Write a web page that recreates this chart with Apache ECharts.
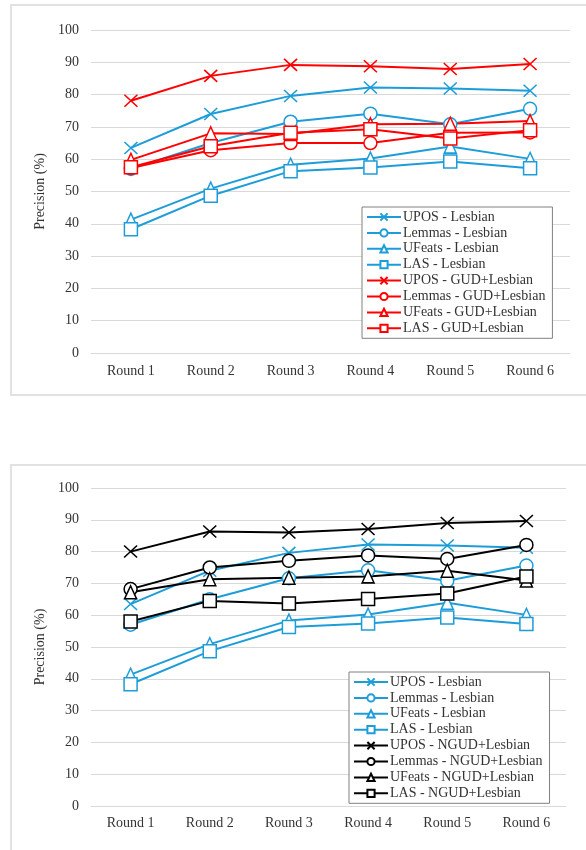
<!DOCTYPE html>
<html>
<head>
<meta charset="utf-8">
<script src="https://cdn.jsdelivr.net/npm/echarts@6/dist/echarts.min.js"></script>
<style>
  html, body { margin: 0; padding: 0; background: #fff; }
  #chart { width: 586px; height: 850px; }
</style>
</head>
<body>
<div id="chart"></div>
<script>
var rounds = ["Round 1", "Round 2", "Round 3", "Round 4", "Round 5", "Round 6"];
var yTicks = [0, 10, 20, 30, 40, 50, 60, 70, 80, 90, 100];

// Lesbian only (both charts)
var uposLes = [63.5, 74.0, 79.6, 82.2, 81.9, 81.2];
var lemmasLes = [57.0, 65.0, 71.6, 74.1, 70.8, 75.6];
var ufeatsLes = [41.3, 50.9, 58.3, 60.2, 63.9, 60.1];
var lasLes = [38.3, 48.7, 56.3, 57.4, 59.3, 57.2];

// GUD+Lesbian (top chart)
var uposGud = [78.1, 85.8, 89.2, 88.8, 87.9, 89.5];
var lemmasGud = [57.3, 62.8, 65.0, 65.0, 68.2, 68.3];
var ufeatsGud = [59.8, 68.0, 67.8, 70.8, 71.0, 71.8];
var lasGud = [57.5, 64.0, 68.2, 69.3, 66.4, 69.0];

// NGUD+Lesbian (bottom chart)
var uposNgud = [80.0, 86.3, 86.0, 87.1, 89.0, 89.6];
var lemmasNgud = [68.2, 75.0, 77.1, 78.8, 77.7, 82.1];
var ufeatsNgud = [67.2, 71.3, 71.8, 72.2, 74.0, 70.9];
var lasNgud = [58.0, 64.5, 63.7, 65.1, 66.8, 72.2];

var BLUE = "#1c9dd9";
var RED = "#ff0000";
var BLACK = "#000000";
var FONT = "Liberation Serif";
var TXT = "#333333";

var CROSS = "path://M0,0L10,10M0,10L10,0";

function mk(name, data, color, kind, idx) {
  var sym, size;
  if (kind === "x") { sym = CROSS; size = [13, 12]; }
  else if (kind === "o") { sym = "circle"; size = 13; }
  else if (kind === "t") { sym = "triangle"; size = [12, 13]; }
  else { sym = "rect"; size = 13; }
  return {
    name: name,
    type: "line",
    xAxisIndex: idx,
    yAxisIndex: idx,
    data: data,
    symbol: sym,
    symbolSize: size,
    showAllSymbol: true,
    lineStyle: { color: color, width: 2 },
    itemStyle: { color: "#fff", borderColor: color, borderWidth: 1.5 },
    emphasis: { disabled: true },
    animation: false,
  };
}

function xAx(idx, margin) {
  return {
    type: "category",
    gridIndex: idx,
    data: rounds,
    boundaryGap: true,
    axisLine: { show: true, lineStyle: { color: "#d9d9d9" } },
    axisTick: { show: false },
    axisLabel: { color: TXT, fontFamily: FONT, fontSize: 14, margin: margin },
  };
}

function yAx(idx) {
  return {
    type: "value",
    gridIndex: idx,
    min: yTicks[0],
    max: yTicks[yTicks.length - 1],
    interval: 10,
    name: "Precision (%)",
    nameLocation: "middle",
    nameGap: 36,
    nameTextStyle: { color: TXT, fontFamily: FONT, fontSize: 14 },
    axisLine: { show: false },
    axisTick: { show: false },
    axisLabel: { color: TXT, fontFamily: FONT, fontSize: 14, margin: 12 },
    splitLine: { lineStyle: { color: "#d9d9d9", width: 1 } },
  };
}

function lg(left, top, names) {
  return {
    left: left,
    top: top,
    orient: "vertical",
    data: names,
    itemWidth: 34,
    itemHeight: 9,
    itemGap: 1.9,
    padding: [3, 7, 3, 4],
    borderColor: "#808080",
    borderWidth: 1,
    backgroundColor: "#fff",
    selectedMode: false,
    lineStyle: { width: 2 },
    textStyle: { color: TXT, fontFamily: FONT, fontSize: 14, padding: [0, 0, 0, -3] },
  };
}

var topNames = ["UPOS - Lesbian", "Lemmas - Lesbian", "UFeats - Lesbian", "LAS - Lesbian",
  "UPOS - GUD+Lesbian", "Lemmas - GUD+Lesbian", "UFeats - GUD+Lesbian", "LAS - GUD+Lesbian"];
var botNames = ["UPOS - Lesbian", "Lemmas - Lesbian", "UFeats - Lesbian", "LAS - Lesbian",
  "UPOS - NGUD+Lesbian", "Lemmas - NGUD+Lesbian", "UFeats - NGUD+Lesbian", "LAS - NGUD+Lesbian"];

var chartDom = document.getElementById("chart");
var myChart = echarts.init(chartDom, null, { renderer: "canvas" });
var option;

option = {
  animation: false,
  backgroundColor: "#fff",
  graphic: [
    { type: "rect", z: -10, shape: { x: 11, y: 5, width: 600, height: 390 },
      style: { fill: "none", stroke: "#d9d9d9", lineWidth: 1.5 } },
    { type: "rect", z: -10, shape: { x: 11, y: 465, width: 600, height: 420 },
      style: { fill: "none", stroke: "#d9d9d9", lineWidth: 1.5 } },
  ],
  grid: [
    { left: 91, right: 16, top: 30, height: 323 },
    { left: 91, right: 20, top: 488, height: 318 },
  ],
  xAxis: [xAx(0, 11), xAx(1, 10)],
  yAxis: [yAx(0), yAx(1)],
  legend: [lg(362, 207, topNames), lg(349, 672, botNames)],
  series: [
    mk("UPOS - Lesbian", uposLes, BLUE, "x", 0),
    mk("Lemmas - Lesbian", lemmasLes, BLUE, "o", 0),
    mk("UFeats - Lesbian", ufeatsLes, BLUE, "t", 0),
    mk("LAS - Lesbian", lasLes, BLUE, "s", 0),
    mk("UPOS - GUD+Lesbian", uposGud, RED, "x", 0),
    mk("Lemmas - GUD+Lesbian", lemmasGud, RED, "o", 0),
    mk("UFeats - GUD+Lesbian", ufeatsGud, RED, "t", 0),
    mk("LAS - GUD+Lesbian", lasGud, RED, "s", 0),

    mk("UPOS - Lesbian", uposLes, BLUE, "x", 1),
    mk("Lemmas - Lesbian", lemmasLes, BLUE, "o", 1),
    mk("UFeats - Lesbian", ufeatsLes, BLUE, "t", 1),
    mk("LAS - Lesbian", lasLes, BLUE, "s", 1),
    mk("UPOS - NGUD+Lesbian", uposNgud, BLACK, "x", 1),
    mk("Lemmas - NGUD+Lesbian", lemmasNgud, BLACK, "o", 1),
    mk("UFeats - NGUD+Lesbian", ufeatsNgud, BLACK, "t", 1),
    mk("LAS - NGUD+Lesbian", lasNgud, BLACK, "s", 1),
  ],
};

option && myChart.setOption(option);
</script>
</body>
</html>
